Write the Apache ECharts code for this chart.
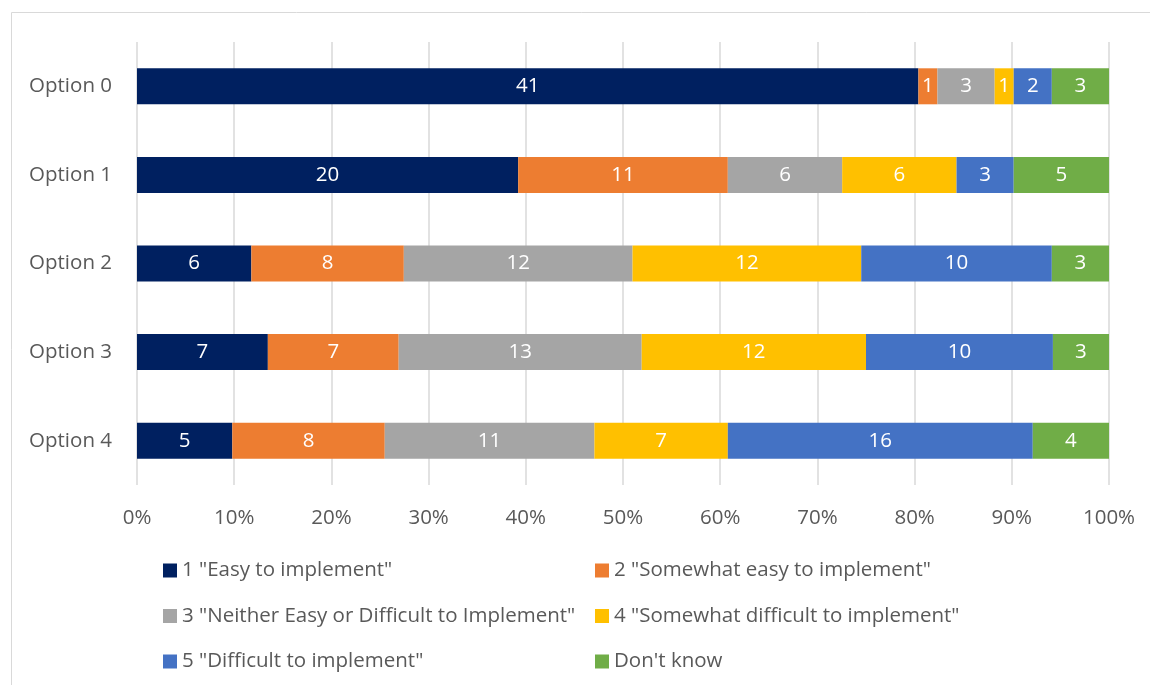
<!DOCTYPE html>
<html><head><meta charset="utf-8">
<script src="https://cdn.jsdelivr.net/npm/echarts@6/dist/echarts.min.js"></script>
<style>html,body{margin:0;padding:0;background:#fff}#c{width:1150px;height:685px}</style>
</head><body><div id="c"></div>
<script>
const categories = ['Option 0','Option 1','Option 2','Option 3','Option 4'];
const seriesNames = ['1 "Easy to implement"','2 "Somewhat easy to implement"','3 "Neither Easy or Difficult to Implement"','4 "Somewhat difficult to implement"','5 "Difficult to implement"',"Don't know"];
const easy = [41,20,6,7,5];
const somewhatEasy = [1,11,8,7,8];
const neither = [3,6,12,13,11];
const somewhatDifficult = [1,6,12,12,7];
const difficult = [2,3,10,10,16];
const dontKnow = [3,5,3,3,4];
const colors = ['#002060','#ED7D31','#A5A5A5','#FFC000','#4472C4','#70AD47'];
const tickLabels = ['0%','10%','20%','30%','40%','50%','60%','70%','80%','90%','100%'];

const all = [easy,somewhatEasy,neither,somewhatDifficult,difficult,dontKnow];
const totals = categories.map((_,i)=>all.reduce((s,a)=>s+a[i],0));
const FONT = 'Open Sans';
const FS = 20.5;
const series = all.map((arr,k)=>({
  name: seriesNames[k], type:'bar', stack:'t', barWidth:36,
  itemStyle:{color:colors[k]},
  label:{show:true, color:'#fff', fontSize:FS, fontFamily:FONT, formatter:p=>arr[p.dataIndex]},
  data: arr.map((v,i)=>v/totals[i]*100)
}));
const chart = echarts.init(document.getElementById('c'));
chart.setOption({
  animation:false,
  textStyle:{fontFamily:FONT},
  graphic:[{type:'rect',shape:{x:11.5,y:12.5,width:1200,height:800},style:{fill:'none',stroke:'#d9d9d9',lineWidth:1},silent:true}],
  grid:{left:137,right:41,top:42,bottom:200},
  xAxis:{type:'value',min:0,max:100,interval:10,
    axisLine:{show:false},axisTick:{show:false},
    splitLine:{lineStyle:{color:'#d9d9d9',width:1.5}},
    axisLabel:{margin:23,color:'#595959',fontSize:FS,fontFamily:FONT,formatter:v=>tickLabels[Math.round(v/10)]}},
  yAxis:{type:'category',data:categories,inverse:true,
    axisLine:{show:false},axisTick:{show:false},
    axisLabel:{margin:25,color:'#595959',fontSize:FS,fontFamily:FONT}},
  legend:[
    {left:158,top:555,orient:'vertical',itemGap:24.5,itemWidth:14,itemHeight:14,icon:'rect',
      textStyle:{color:'#595959',fontSize:FS,fontFamily:FONT,lineHeight:20},
      data:[seriesNames[0],seriesNames[2],seriesNames[4]]},
    {left:590,top:555,orient:'vertical',itemGap:24.5,itemWidth:14,itemHeight:14,icon:'rect',
      textStyle:{color:'#595959',fontSize:FS,fontFamily:FONT,lineHeight:20},
      data:[seriesNames[1],seriesNames[3],seriesNames[5]]}
  ],
  series
});
</script></body></html>
